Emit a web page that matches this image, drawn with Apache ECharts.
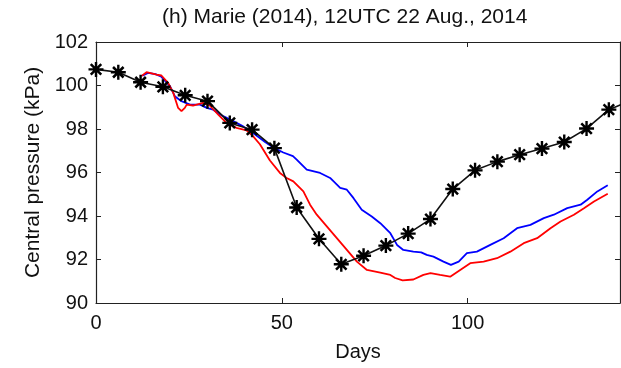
<!DOCTYPE html>
<html>
<head>
<meta charset="utf-8">
<script src="https://cdn.jsdelivr.net/npm/echarts@6/dist/echarts.min.js"></script>
<style>html,body{margin:0;padding:0;background:#fff}#c{width:621px;height:368px}</style>
</head>
<body>
<div id="c"></div>
<script>
var titleText = '(h) Marie (2014), 12UTC 22 Aug., 2014';
var xName = 'Days';
var yName = 'Central pressure (kPa)';
var xTicks = [0, 50, 100];
var yTicks = [90, 92, 94, 96, 98, 100, 102];

var obsDays = [0, 6, 12, 18, 24, 30, 36, 42, 48, 54, 60, 66, 72, 78, 84, 90, 96, 102, 108, 114, 120, 126, 132, 138, 144];
var obsPressure = [100.74, 100.61, 100.15, 99.94, 99.55, 99.28, 98.28, 97.97, 97.12, 94.39, 92.95, 91.78, 92.17, 92.64, 93.19, 93.86, 95.24, 96.1, 96.5, 96.82, 97.1, 97.4, 98.02, 98.89, 99.32];

var blueDays = [12.5, 14, 16, 17.6, 19.9, 21.2, 23, 25.3, 28, 29.8, 31.5, 34.2, 36.9, 39.6, 42, 45.5, 47.7, 50.4, 53, 54, 56.7, 60.3, 63, 65.7, 67.5, 69.3, 71.5, 74.2, 76.5, 79.2, 81, 82.7, 85.4, 87.5, 89, 90.8, 93.5, 95.5, 97.6, 99.8, 102.5, 106.1, 109.7, 113.3, 116.9, 120.5, 123.2, 126.8, 130.4, 132.2, 134.9, 137.7];
var bluePressure = [100.45, 100.58, 100.52, 100.4, 99.97, 99.51, 99.28, 99.12, 99.12, 98.97, 98.89, 98.59, 98.36, 98.12, 97.85, 97.4, 97.15, 96.92, 96.75, 96.59, 96.13, 95.98, 95.75, 95.29, 95.21, 94.82, 94.29, 93.98, 93.67, 93.21, 92.67, 92.44, 92.36, 92.33, 92.21, 92.13, 91.9, 91.75, 91.9, 92.29, 92.36, 92.67, 92.98, 93.44, 93.59, 93.9, 94.06, 94.36, 94.52, 94.75, 95.13, 95.41];

var redDays = [12.2, 13.6, 16.3, 17.6, 19.4, 20.8, 22.1, 23, 23.9, 24.4, 26.1, 28.8, 30.6, 32.9, 35.1, 37.8, 40.5, 42.3, 44.1, 46.8, 49.5, 51.3, 53.1, 55.8, 57.6, 59.4, 62.1, 64.8, 67.5, 70.2, 72.9, 76.5, 79.2, 80.5, 82.5, 85.4, 88.1, 90, 92.6, 95.3, 98, 100.7, 104.3, 107.9, 111.5, 115.1, 118.7, 122.3, 125, 128.6, 131.3, 134, 137.7];
var redPressure = [100.43, 100.61, 100.5, 100.46, 100.12, 99.66, 98.97, 98.82, 98.97, 99.12, 99.08, 99.2, 99.08, 98.66, 98.28, 98.05, 97.94, 97.66, 97.3, 96.55, 95.98, 95.75, 95.59, 95.13, 94.52, 94.06, 93.52, 92.98, 92.44, 91.9, 91.52, 91.4, 91.29, 91.15, 91.04, 91.08, 91.29, 91.37, 91.29, 91.21, 91.52, 91.83, 91.9, 92.06, 92.36, 92.75, 92.98, 93.44, 93.75, 94.06, 94.36, 94.67, 95.02];

function zip(a, b) { return a.map(function (v, i) { return [v, b[i]]; }); }

var star = 'path://M0 42 L100 42 L100 58 L0 58 Z M42 0 L58 0 L58 100 L42 100 Z M9 21 L21 9 L91 79 L79 91 Z M79 9 L91 21 L21 91 L9 79 Z';
var font = 'Liberation Sans, Arial, sans-serif';
var axisCol = '#222';

var chart = echarts.init(document.getElementById('c'), null, {renderer: 'canvas'});
chart.setOption({
  animation: false,
  backgroundColor: '#fff',
  title: {
    text: titleText, left: 157, top: 2,
    textStyle: {fontFamily: font, fontSize: 21, fontWeight: 'normal', color: '#111'}
  },
  grid: {left: 96, right: 1, top: 42, bottom: 65, containLabel: false},
  xAxis: [{
    type: 'value', min: 0, max: 141, interval: 50,
    name: xName, nameLocation: 'middle', nameGap: 39,
    nameTextStyle: {fontFamily: font, fontSize: 20, color: '#111'},
    axisLine: {show: true, onZero: false, lineStyle: {color: axisCol, width: 1.2}},
    axisTick: {show: true, inside: true, length: 5, lineStyle: {color: axisCol}},
    axisLabel: {fontFamily: font, fontSize: 20, color: '#111', margin: 10, showMaxLabel: false},
    splitLine: {show: false}
  }, {
    type: 'value', min: 0, max: 141, interval: 50, position: 'top',
    axisLine: {show: true, onZero: false, lineStyle: {color: axisCol, width: 1.2}},
    axisTick: {show: true, inside: true, length: 5, lineStyle: {color: axisCol}},
    axisLabel: {show: false}, splitLine: {show: false}
  }],
  yAxis: [{
    type: 'value', min: 90, max: 102, interval: 2,
    name: yName, nameLocation: 'middle', nameGap: 52, nameRotate: 90,
    nameTextStyle: {fontFamily: font, fontSize: 21, color: '#111'},
    axisLine: {show: true, onZero: false, lineStyle: {color: axisCol, width: 1.2}},
    axisTick: {show: true, inside: true, length: 5, lineStyle: {color: axisCol}},
    axisLabel: {fontFamily: font, fontSize: 20, color: '#111', margin: 8},
    splitLine: {show: false}
  }, {
    type: 'value', min: 90, max: 102, interval: 2, position: 'right',
    axisLine: {show: true, onZero: false, lineStyle: {color: axisCol, width: 1.2}},
    axisTick: {show: true, inside: true, length: 5, lineStyle: {color: axisCol}},
    axisLabel: {show: false}, splitLine: {show: false}
  }],
  series: [{
    type: 'line', data: zip(blueDays, bluePressure), showSymbol: false, symbol: 'none',
    lineStyle: {color: '#0000ff', width: 1.8}, clip: true, z: 2
  }, {
    type: 'line', data: zip(redDays, redPressure), showSymbol: false, symbol: 'none',
    lineStyle: {color: '#ff0000', width: 1.8}, clip: true, z: 3
  }, {
    type: 'line', data: zip(obsDays, obsPressure), symbol: star, symbolSize: 15,
    lineStyle: {color: '#111', width: 1.6},
    itemStyle: {color: '#000', borderWidth: 0}, clip: true, z: 4
  }]
});
</script>
</body>
</html>
